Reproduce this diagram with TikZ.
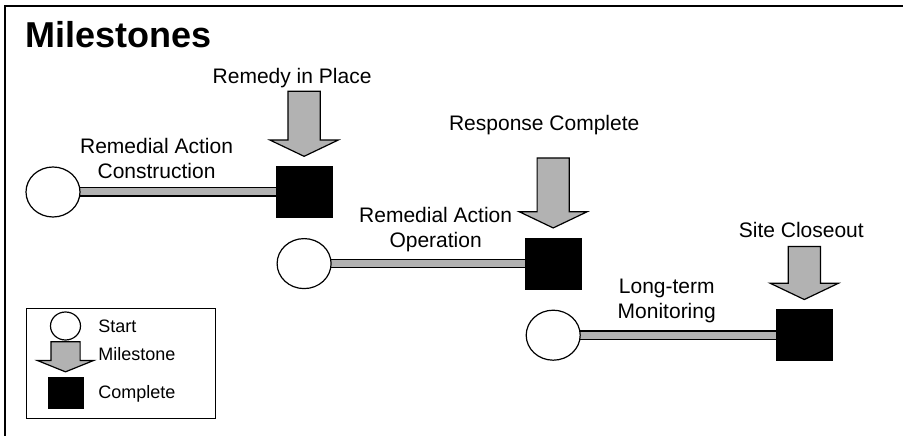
\documentclass[tikz,border=0pt]{standalone}
\usepackage{fontspec}
\setmainfont{Liberation Sans}
\usetikzlibrary{positioning,shapes.geometric,shapes.arrows,backgrounds}

\tikzset{
  startmark/.style={ellipse, draw, line width=1.2pt, fill=white, inner sep=0pt,
    minimum width=54pt, minimum height=50pt},
  donemark/.style={rectangle, draw, line width=1pt, fill=black, inner sep=0pt,
    minimum width=56pt, minimum height=51pt},
  % shaft width comes from the text height, head from the extend
  milearrow/.style={single arrow, draw, line width=1.2pt, fill=black!30, inner sep=0pt,
    rotate=-90, text height=31pt, text depth=0pt, minimum height=64pt,
    single arrow head extend=18pt, single arrow tip angle=129, single arrow head indent=0pt},
  phasebar/.style={draw, line width=1.2pt, double=black!30, double distance=7pt},
  mtext/.style={inner sep=0pt, font=\fontsize{21}{25}\selectfont},
  keytext/.style={inner sep=0pt, font=\fontsize{18}{21}\selectfont},
  heading/.style={inner sep=0pt, font=\fontsize{36}{42}\selectfont\bfseries},
}

\begin{document}
\begin{tikzpicture}[x=1pt, y=1pt]
  \useasboundingbox (0,0) rectangle (903,436);
  % frame, runs off the page on the right and at the bottom
  \draw[line width=2pt] (5,-10) -- (5,430) -- (915,430);
  \node[heading, anchor=base west] (title) at (25,388) {Milestones};

  % three phases, each starting below the previous completion
  \node[startmark] (c1) at (53,244) {};
  \node[donemark, right=195pt of c1] (q1) {};
  \node[startmark, below=20pt of q1] (c2) {};
  \node[donemark, right=193pt of c2] (q2) {};
  \node[startmark, below=20pt of q2] (c3) {};
  \node[donemark, right=195pt of c3] (q3) {};

  % milestone arrows with captions
  \foreach \q/\len/\gap/\dx/\t in {q1/65/3/-12/Remedy in Place,
      q2/70/22/-9/Response Complete, q3/53/8/-3/Site Closeout} {
    \node[milearrow, anchor=tip, minimum height=\len pt] (a-\q) at ([yshift=9pt]\q.north) {};
    \node[mtext, above=\gap pt of a-\q.tail, xshift=\dx pt] (m-\q) {\t};
  }

  % bars between start and completion
  \begin{scope}[on background layer]
    \draw[phasebar] (c1.center) -- node[mtext, align=center, above=5pt, xshift=-22pt] (p1) {Remedial Action\\Construction\strut} (q1.center);
    \draw[phasebar] (c2.center) -- node[mtext, align=center, above=8pt, xshift=7pt] (p2) {Remedial Action\\Operation\strut} (q2.center);
    \draw[phasebar] (c3.center) -- node[mtext, align=center, above=9pt, xshift=-12pt] (p3) {Long-term\\Monitoring\strut} (q3.center);
  \end{scope}

  % legend
  \node[draw, line width=1.2pt, anchor=south west, minimum width=189pt, minimum height=110pt] (legend) at (26,17) {};
  \node[startmark, minimum width=30pt, minimum height=28pt] (k1) at (65.5,110) {};
  \node[donemark, minimum width=35pt, minimum height=31pt] (k3) at (65.5,42.5) {};
  \node[milearrow, anchor=tip, minimum height=30pt, text height=28pt,
    single arrow head extend=13.5pt, single arrow tip angle=136] (k2) at ([yshift=5pt]k3.north) {};
  \node[keytext, right=17pt of k1] (t1) {Start};
  \node[keytext, anchor=west] (t2) at (t1.west |- k2.center) {Milestone};
  \node[keytext, anchor=west] (t3) at (t1.west |- k3) {Complete};
\end{tikzpicture}
\end{document}
